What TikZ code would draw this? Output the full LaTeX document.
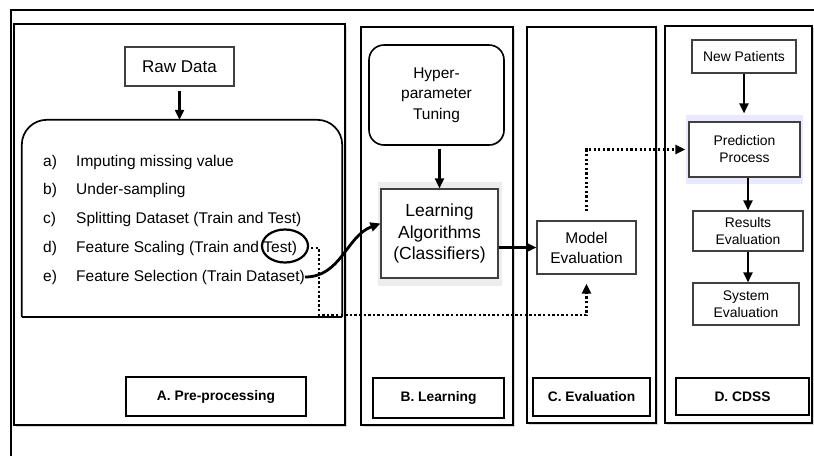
\documentclass[tikz,border=0pt]{standalone}
\usepackage{fontspec}
\setmainfont{Liberation Sans}
\usetikzlibrary{arrows.meta}
\usetikzlibrary{shapes.geometric}
\usetikzlibrary{shadows}

\begin{document}
\begin{tikzpicture}[x=1pt,y=1pt,
	>={Triangle[length=10pt,width=9pt]},
	panel/.style={draw,line width=2.6pt,fill=white,inner sep=0pt,
		drop shadow={shadow xshift=1.5pt,shadow yshift=-1.5pt,opacity=0.3}},
	box/.style={draw=black!75,line width=1.1pt,fill=white,inner sep=0pt,align=center},
	tag/.style={draw,line width=1.4pt,fill=white,inner sep=0pt,
		font=\bfseries\fontsize{13.8}{16}\selectfont},
	item/.style={anchor=west,inner sep=0pt,font=\fontsize{15.5}{18}\selectfont},
	flow/.style={->,line width=2.2pt},
	dotflow/.style={->,line width=2.4pt,dash pattern=on 2.3pt off 2.3pt}]
	\useasboundingbox (0,0) rectangle (814,-456);
	\draw[line width=1.8pt] (11,-456) |- (814,-10);

	% the four stages
	\node[panel,minimum width=331,minimum height=401] (panelA) at (179.5,-224.5) {};
	\node[panel,minimum width=152,minimum height=398] (panelB) at (437,-226) {};
	\node[panel,minimum width=129,minimum height=396] (panelC) at (591.5,-225) {};
	\node[panel,minimum width=147,minimum height=397] (panelD) at (738.5,-224.5) {};

	\node[tag,minimum width=180,minimum height=39] (tagA) at (216,-396.5) {A. Pre-processing};
	\node[tag,minimum width=131,minimum height=40] (tagB) at (438.5,-398) {B. Learning};
	\node[tag,minimum width=117,minimum height=38] (tagC) at (591.5,-397) {C. Evaluation};
	\node[tag,minimum width=133,minimum height=37] (tagD) at (742.5,-396.5) {D. CDSS};

	% pre-processing
	\node[box,minimum width=109,minimum height=39,font=\fontsize{17}{20}\selectfont]
		(rawdata) at (179.5,-66.5) {Raw Data};
	\node[minimum width=320,minimum height=197,inner sep=0pt] (steps) at (182,-218.5) {};
	\draw[line width=1.7pt,rounded corners=25pt] (steps.south west) -- (steps.north west)
		-- (steps.north east) -- (steps.south east);
	\draw[line width=1.7pt] (steps.south west) -- (steps.south east);

	\node[item] (ia) at (43,-162) {a)};
	\node[item] (ta) at (76,-162) {Imputing missing value};
	\node[item] (ib) at (43,-190) {b)};
	\node[item] (tb) at (76,-190) {Under-sampling};
	\node[item] (ic) at (43,-219) {c)};
	\node[item] (tc) at (76,-219) {Splitting Dataset (Train and Test)};
	\node[item] (id) at (43,-248) {d)};
	\node[item] (td) at (76,-248) {Feature Scaling (Train and Test)};
	\node[item] (ie) at (43,-277) {e)};
	\node[item] (te) at (76,-277) {Feature Selection (Train Dataset)};
	\node[ellipse,draw,line width=2.2pt,minimum width=46,minimum height=33,inner sep=0pt]
		(testring) at (285,-246) {};

	% learning
	\node[box,draw=black,line width=1.6pt,rounded corners=15pt,minimum width=135,minimum height=100,
		drop shadow={shadow xshift=1pt,shadow yshift=-1pt,opacity=0.25},
		font=\fontsize{15.5}{20.5}\selectfont] (hyper) at (436.5,-95) {Hyper-\\parameter\\Tuning};
	\node[fill=black!7,minimum width=124,minimum height=104,inner sep=0pt] (labg) at (440,-234) {};
	\node[box,minimum width=117,minimum height=89,font=\fontsize{17.5}{21.5}\selectfont]
		(learnalg) at (439.5,-233.5) {Learning\\Algorithms\\(Classifiers)};

	% evaluation
	\node[box,minimum width=99,minimum height=53,font=\fontsize{15.5}{20}\selectfont]
		(modeleval) at (586.5,-247.5) {Model\\Evaluation};

	% cdss
	\node[box,minimum width=104,minimum height=33,font=\fontsize{13.9}{17}\selectfont]
		(newpat) at (744,-56.5) {New Patients};
	\node[fill=blue!9,minimum width=117,minimum height=69,inner sep=0pt] (predbg) at (744.5,-149.5) {};
	\node[box,minimum width=111,minimum height=55,font=\fontsize{13.9}{17}\selectfont]
		(prediction) at (744.5,-149.5) {Prediction\\Process};
	\node[box,minimum width=110,minimum height=40,font=\fontsize{13.9}{17}\selectfont]
		(results) at (748,-231) {Results\\Evaluation};
	\node[box,minimum width=106,minimum height=42,font=\fontsize{13.9}{17}\selectfont]
		(system) at (746,-304) {System\\Evaluation};

	\coordinate (testend) at (311,-248);
	\coordinate (dotbend) at (319,-315);

	\draw[flow,shorten <=4pt] (rawdata) -- (steps.north -| rawdata);
	\draw[flow,shorten <=3pt] (hyper.south -| learnalg.north) -- (learnalg.north);
	\draw[flow] (learnalg.east |- modeleval.west) -- (modeleval.west);
	\draw[flow,line width=2.8pt] (te.east) to[out=0,in=200] ([yshift=10pt]learnalg.west);
	\draw[flow,shorten >=8pt] (newpat) -- (prediction.north -| newpat);
	\draw[flow] (prediction.south -| results.north) -- (results.north);
	\draw[flow] (results.south) -- (results.south |- system.north);

	\draw[dotflow,shorten >=9pt] (testend) -| (dotbend) -| (modeleval.south);
	\draw[dotflow,shorten <=9pt,shorten >=3pt] (modeleval.north) |- (prediction.west);
\end{tikzpicture}
\end{document}
